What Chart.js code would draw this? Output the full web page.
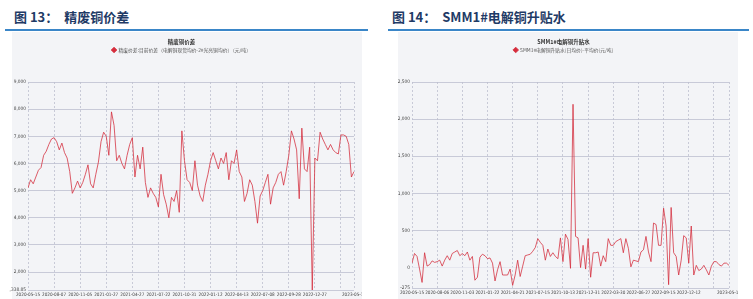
<!DOCTYPE html>
<html>
<head>
<meta charset="utf-8">
<script src="https://cdn.jsdelivr.net/npm/chart.js@4"></script>
<style>
  body { margin: 0; width: 753px; height: 299px; background: #fff; position: relative; overflow: hidden; font-family: "Noto Sans CJK SC", sans-serif; }
  .head { position: absolute; top: 8px; font-size: 13px; font-weight: bold; color: #1f3b66; white-space: pre; line-height: 18px; }
  .bar { position: absolute; top: 29px; height: 2px; background: #3a86c8; }
  .panel { position: absolute; top: 32px; height: 267px; background: #f3f4f7; }
  .panel canvas { position: absolute; top: 0; }
</style>
</head>
<body>
<div class="head" style="left:14px">图 13：  精废铜价差</div>
<div class="bar" style="left:5px;width:363px"></div>
<div class="panel" style="left:12px;width:350px"><canvas id="c1" width="353" height="267" style="left:-3px"></canvas></div>

<div class="head" style="left:392px">图 14：  SMM1#电解铜升贴水</div>
<div class="bar" style="left:388px;width:361px"></div>
<div class="panel" style="left:398px;width:340px"><canvas id="c2" width="340" height="267" style="left:0"></canvas></div>

<script>
// ---------------------------------------------------------------- data : 精废铜价差 (元/吨)
const spread = [
  5100, 5400, 5250, 5500, 5750, 5850, 6300, 6450, 6700, 6900,
  6950, 6800, 6500, 6750, 6400, 6200, 5700, 4900, 5100, 5350,
  5100, 5300, 5600, 5950, 5250, 5100, 5600, 6050, 6800, 7150,
  7000, 6300, 7900, 7400, 6100, 6300, 6000, 5800, 6300, 6700,
  6950, 5500, 6300, 5800, 6600, 5300, 4750, 5100, 4900, 4750,
  4400, 5600, 4850, 4500, 4000, 4750, 4600, 5000, 4200, 7200,
  6100, 5400, 5300, 5000, 6100, 5200, 4800, 4600, 5200, 5600,
  6100, 6400, 6100, 5800, 6200, 6000, 6400, 5400, 6100, 6000,
  6500, 5700, 5500, 4600, 4900, 5400, 5200, 4600, 3800, 4800,
  5000, 5300, 5600, 4500, 5100, 5300, 5600, 5700, 5200, 5700,
  6300, 7200, 6900, 6500, 4700, 7300, 5800, 5700, 6600, 1338.85,
  6200, 6100, 7150, 6900, 6700, 6500, 6700, 6500, 6400, 6350,
  7050, 7050, 7000, 6700, 5500, 5700
];
const spreadTickIdx = [0, 10, 20, 30, 40, 50, 60, 70, 80, 90, 100, 110, 120, 125];
const spreadTickLabels = ['2020-05-15', '2020-08-07', '2020-11-05', '2021-01-27', '2021-04-27', '2021-07-22',
  '2021-10-31', '2022-01-12', '2022-04-13', '2022-07-08', '2022-09-28', '2022-12-27', '', '2023-05-11'];
const spreadYTicks = [1338.85, 2000, 3000, 4000, 5000, 6000, 7000, 8000, 9000];

// ---------------------------------------------------------------- data : SMM1#电解铜升贴水 (元/吨)
const premium = [
  60, 190, 150, -20, -200, 200, 20, 40, 90, 70,
  80, 100, 20, 100, 160, 100, 190, 210, 230, 160,
  190, 160, 210, 100, 150, -170, -130, 140, 180, 160,
  120, 130, 60, -180, -30, 80, -100, -100, -100, -20,
  -240, -100, 100, -120, 20, 160, 170, 180, 220, 270,
  390, 340, 300, 100, 250, 150, 200, 150, 120, 400,
  80, 450, 380, -10, 2200, 420, 400, 0, 300, -20,
  390, -130, 200, 200, 210, 20, 160, 80, 390, 300,
  300, 350, 370, 390, 200, 390, 260, 10, 100, 90,
  80, 210, 240, 420, 210, 80, 600, 580, 300, 300,
  800, 560, -230, 810, 200, 150, -100, 100, 430, 400,
  60, 560, -100, 30, -40, -20, 30, -30, -100, 20,
  80, 80, 40, 20, 60, 60, 30
];
const premiumTickIdx = [0, 10, 20, 30, 40, 50, 60, 70, 80, 90, 100, 110, 120, 126];
const premiumTickLabels = ['2020-05-15', '2020-08-06', '2020-11-03', '2021-01-22', '2021-04-21', '2021-07-15',
  '2021-10-13', '2021-12-31', '2022-03-30', '2022-06-27', '2022-09-15', '2022-12-12', '', '2023-05-12'];
const premiumYTicks = [-275, 0, 500, 1000, 1500, 2000, 2500];

Chart.defaults.font.family = "'Liberation Sans Narrow', 'DejaVu Sans Condensed', 'Liberation Sans', 'Noto Sans CJK SC', sans-serif";
Chart.defaults.color = '#444';

// la légende prend toute la hauteur jusqu'au haut du graphe
const legendGap = (h) => ({
  id: 'legendGap',
  beforeInit(chart) {
    const fit = chart.legend.fit;
    chart.legend.fit = function () {
      fit.call(this);
      this.height = h;
    };
  }
});

const makeChart = (id, cfg) => {
  const ctx = document.getElementById(id).getContext('2d');
  return new Chart(ctx, {
    type: 'line',
    data: {
      datasets: [{
        label: cfg.label,
        data: cfg.values.map((v, i) => ({x: i, y: v})),
        borderColor: 'rgba(212, 42, 58, 0.85)',
        backgroundColor: '#d62c3c',
        borderWidth: 0.9,
        pointRadius: 0,
        pointStyle: 'rectRot',
        tension: 0
      }]
    },
    options: {
      responsive: false,
      animation: false,
      layout: { padding: { left: 0, right: cfg.padRight, top: 0, bottom: 0 } },
      plugins: {
        title: {
          display: true,
          text: cfg.title,
          font: { size: 5.5, weight: 'bold', family: "'Noto Sans CJK SC', sans-serif" },
          color: '#333',
          padding: { top: 7, bottom: 0 }
        },
        legend: {
          display: true,
          labels: {
            usePointStyle: true,
            boxWidth: 4,
            boxHeight: 4,
            padding: 2,
            font: { size: 4.8, family: "'Noto Sans CJK SC', sans-serif" },
            color: '#555'
          }
        },
        tooltip: { enabled: false }
      },
      scales: {
        x: {
          type: 'linear',
          min: 0,
          max: cfg.values.length - 1,
          afterBuildTicks: (scale) => { scale.ticks = cfg.tickIdx.map(v => ({value: v})); },
          afterFit: (scale) => { scale.height = cfg.xHeight; scale.paddingLeft = 0; scale.paddingRight = 0; },
          ticks: {
            autoSkip: false,
            maxRotation: 0,
            padding: 2,
            font: { size: 4.6 },
            callback: (v) => cfg.tickLabels[cfg.tickIdx.indexOf(v)]
          },
          grid: { color: '#bdbfcf', lineWidth: 0.8, drawTicks: false },
          border: { display: false, dash: [2, 2] }
        },
        y: {
          min: cfg.yTicks[0],
          max: cfg.yTicks[cfg.yTicks.length - 1],
          afterBuildTicks: (scale) => { scale.ticks = cfg.yTicks.map(v => ({value: v})); },
          afterFit: (scale) => { scale.width = cfg.yWidth; scale.paddingTop = 0; scale.paddingBottom = 0; },
          ticks: {
            padding: 2,
            font: { size: 4.8 },
            callback: (v) => v.toLocaleString('en-US')
          },
          grid: {
            color: (c) => c.tick && c.tick.value === 0 && cfg.lightZero ? '#e2e3ec' : '#bdbfcf',
            lineWidth: 0.8,
            drawTicks: false
          },
          border: { display: false }
        }
      }
    },
    plugins: [legendGap(cfg.legendH)]
  });
};

makeChart('c1', {
  title: '精废铜价差',
  label: '精废价差:目前价差（电解铜现货均价-2#光亮铜均价）（元/吨）',
  values: spread,
  tickIdx: spreadTickIdx,
  tickLabels: spreadTickLabels,
  yTicks: spreadYTicks,
  yWidth: 19,
  xHeight: 9,
  padRight: 8,
  legendH: 36.4,
  lightZero: false
});

makeChart('c2', {
  title: 'SMM1#电解铜升贴水',
  label: 'SMM1#电解铜升贴水(日均价)-平均价(元/吨)',
  values: premium,
  tickIdx: premiumTickIdx,
  tickLabels: premiumTickLabels,
  yTicks: premiumYTicks,
  yWidth: 14,
  xHeight: 11,
  padRight: 9,
  legendH: 36.4,
  lightZero: true
});
</script>
</body>
</html>
